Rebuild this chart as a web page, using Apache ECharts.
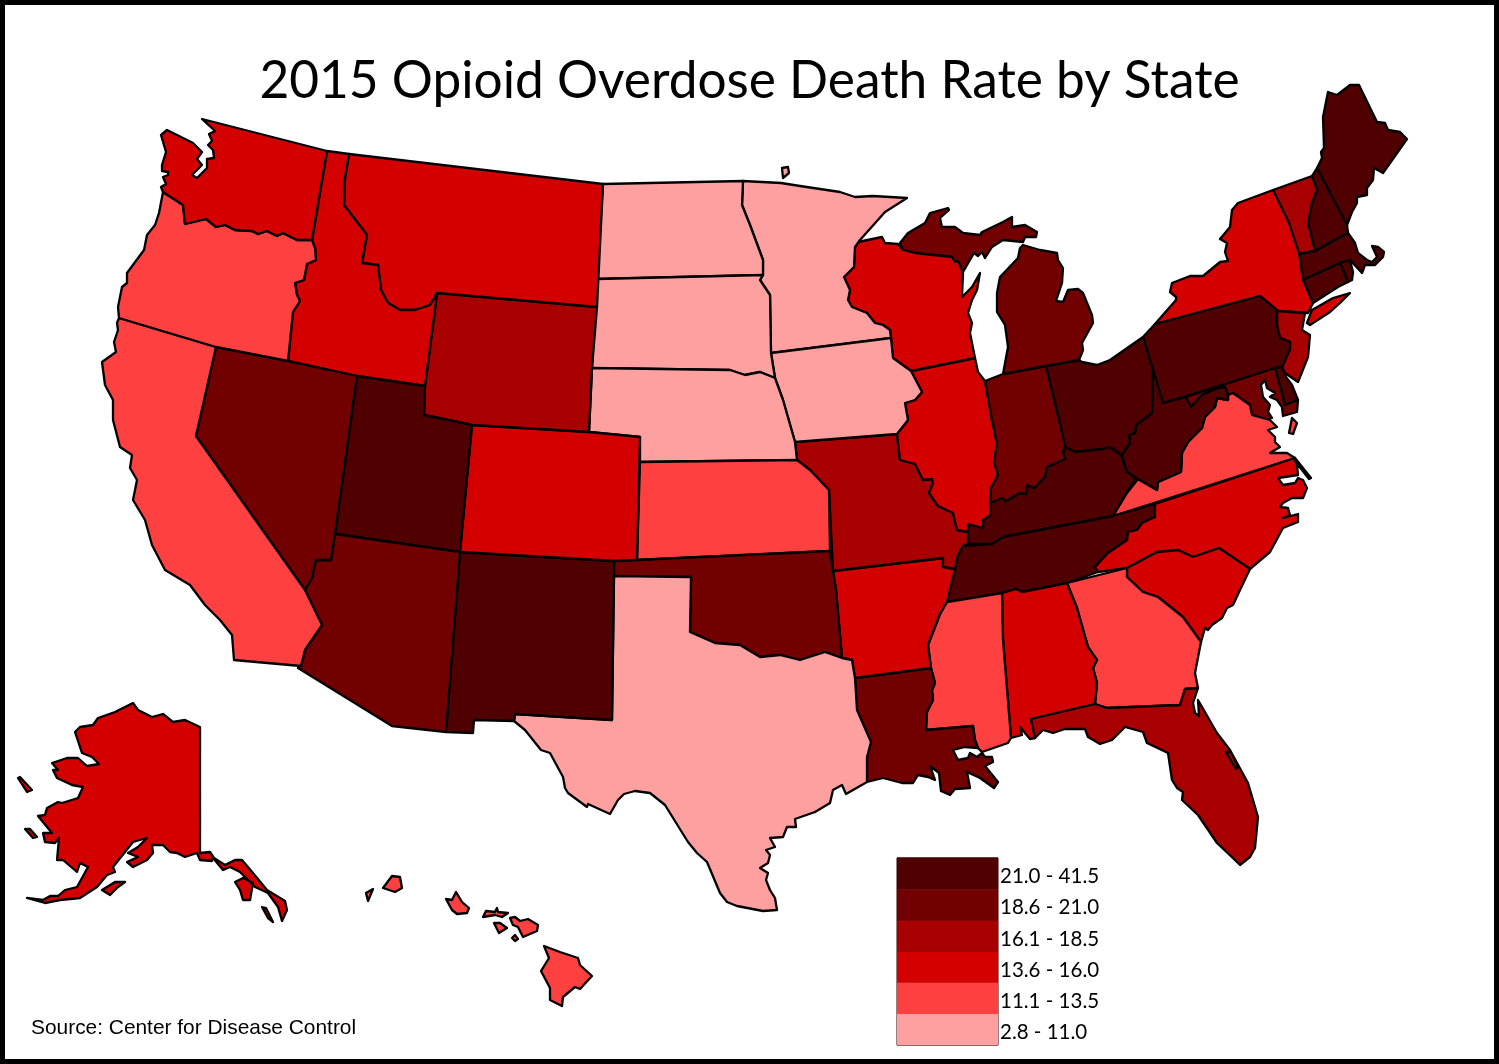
<!DOCTYPE html>
<html>
<head>
<meta charset="utf-8">
<title>2015 Opioid Overdose Death Rate by State</title>
<script src="https://cdn.jsdelivr.net/npm/echarts@6/dist/echarts.min.js"></script>
<style>
  html, body { margin: 0; padding: 0; background: #fff; }
  #main { width: 1499px; height: 1064px; }
</style>
</head>
<body>
<div id="main"></div>
<script>
// rates per 100k, estimated: the picture only shows which class each state falls in
var stateNames = ['ME','NH','VT','MA','RI','CT','NY','NJ','PA','DE','MD','VA','WV','OH','KY','TN','NC','SC','GA','AL','MS','FL','LA','AR','MO','IL','IN','MI','WI','MN','IA','ND','SD','NE','KS','OK','TX','NM','CO','WY','MT','ID','UT','AZ','NV','CA','OR','WA','AK','HI'];
var stateRates = [21.2,34.3,16.5,25.7,28.2,22.1,15.2,16.3,26.3,22.0,20.9,12.4,41.5,29.9,29.9,22.2,15.8,15.7,12.7,15.7,12.3,16.2,19.0,14.5,17.5,14.1,19.5,20.4,15.1,10.6,10.3,8.6,8.4,8.0,12.6,19.0,9.4,25.3,15.4,16.4,15.0,14.5,23.4,19.0,20.4,11.3,12.0,13.6,14.5,11.3];

var classLabels = ['21.0 - 41.5','18.6 - 21.0','16.1 - 18.5','13.6 - 16.0','11.1 - 13.5','2.8 - 11.0'];
var classMin = [21.0,18.6,16.1,13.6,11.1,2.8];
var classMax = [41.5,21.0,18.5,16.0,13.5,11.0];
var classColors = ['#500000','#730000','#a80000','#d40000','#ff4040','#ffa0a0'];

// outlines, one list of rings per state
var outlines = {
  WA: [[[202,119],[327,151],[312,240],[297,240],[283,233],[277,236],[267,231],[258,234],[252,231],[235,230],[225,225],[216,227],[206,219],[185,224],[183,205],[163,192],[161,187],[166,184],[163,177],[168,175],[168,172],[162,171],[162,165],[166,152],[161,135],[167,130],[193,143],[202,152],[197,159],[202,165],[192,175],[197,178],[207,168],[207,159],[214,158],[213,150],[208,145],[212,141],[209,134],[215,131]]],
  OR: [[[163,192],[183,205],[185,224],[206,219],[216,227],[225,225],[235,230],[252,231],[258,234],[267,231],[277,236],[283,233],[297,240],[312,240],[315,248],[316,260],[307,264],[304,280],[295,283],[297,295],[300,301],[293,312],[288,361],[216,347],[119,318],[118,307],[122,287],[127,283],[127,273],[144,250],[147,235],[155,225],[159,213]]],
  ID: [[[327,151],[349,154],[345,178],[344,205],[367,235],[362,263],[378,265],[381,290],[388,303],[400,310],[415,310],[430,305],[437,294],[425,386],[357,376],[288,361],[293,312],[300,301],[297,295],[295,283],[304,280],[307,264],[316,260],[315,248],[312,240]]],
  MT: [[[349,154],[603,184],[597,307],[437,293],[430,305],[415,310],[400,310],[388,303],[381,290],[378,265],[362,263],[367,235],[344,205],[345,178]]],
  WY: [[[437,293],[597,307],[592,368],[589,432],[472,425],[424,415],[425,386]]],
  CA: [[[119,318],[216,347],[196,436],[305,590],[322,625],[305,650],[301,666],[234,660],[232,635],[220,620],[205,605],[190,585],[165,570],[152,545],[145,520],[133,500],[137,480],[130,468],[132,455],[120,447],[113,420],[113,400],[105,385],[102,362],[116,352],[114,342],[118,330],[117,323]]],
  NV: [[[216,347],[288,361],[357,376],[335,534],[331,560],[316,560],[312,578],[305,590],[196,436]]],
  UT: [[[357,376],[425,386],[424,415],[472,425],[460,552],[335,534]]],
  AZ: [[[335,534],[460,552],[446,732],[392,726],[298,668],[301,666],[305,650],[322,625],[305,590],[312,578],[316,560],[331,560]]],
  CO: [[[472,425],[589,432],[640,437],[637,560],[614,561],[460,552]]],
  NM: [[[460,552],[614,561],[614,576],[612,720],[515,714],[514,721],[474,720],[473,733],[446,732]]],
  ND: [[[603,184],[743,181],[742,205],[750,225],[763,260],[763,275],[597,279]]],
  SD: [[[597,279],[763,275],[760,280],[770,295],[771,353],[775,378],[760,372],[745,375],[730,370],[592,368]]],
  NE: [[[592,368],[730,370],[745,375],[760,372],[775,378],[783,400],[795,442],[797,460],[640,462],[640,437],[589,432]]],
  KS: [[[640,462],[797,460],[810,470],[829,490],[830,551],[637,560]]],
  OK: [[[614,561],[637,560],[830,551],[833,571],[836,590],[842,658],[825,652],[800,660],[780,655],[760,657],[740,645],[715,643],[690,632],[691,577],[614,576]]],
  TX: [[[614,576],[691,577],[690,632],[715,643],[740,645],[760,657],[780,655],[800,660],[825,652],[842,658],[852,660],[855,678],[857,710],[871,742],[867,757],[867,782],[846,794],[842,785],[833,790],[830,803],[815,812],[795,819],[796,827],[787,827],[783,837],[770,838],[775,847],[766,850],[770,855],[768,863],[760,868],[768,873],[766,880],[770,890],[775,898],[777,910],[763,911],[737,906],[727,902],[720,893],[707,862],[697,853],[688,842],[665,805],[650,793],[635,791],[624,794],[618,800],[610,814],[588,804],[587,807],[568,793],[565,788],[563,777],[550,753],[541,750],[525,730],[514,721],[515,714],[612,720]]],
  MN: [[[743,181],[781,183],[800,186],[840,192],[855,197],[873,196],[907,198],[885,212],[860,240],[855,247],[854,267],[844,277],[850,290],[848,300],[852,307],[867,313],[875,323],[883,325],[890,330],[891,338],[771,353],[770,295],[760,280],[763,275],[763,260],[750,225],[742,205]],
       [[782,168],[788,167],[789,173],[783,178]]],
  IA: [[[771,353],[891,338],[893,358],[911,371],[922,392],[915,400],[905,403],[908,420],[897,434],[795,442],[783,400],[775,378]]],
  MO: [[[795,442],[897,434],[900,460],[915,464],[923,480],[932,479],[933,483],[929,493],[938,506],[953,513],[957,530],[968,532],[968,544],[963,546],[958,555],[955,569],[943,567],[943,558],[833,571],[829,490],[810,470],[797,460]]],
  AR: [[[833,571],[943,558],[943,567],[955,569],[947,602],[940,614],[928,645],[931,668],[855,678],[852,660],[842,658],[836,590]]],
  LA: [[[855,678],[931,668],[935,683],[932,690],[933,700],[927,712],[926,730],[973,726],[975,740],[978,748],[965,747],[953,750],[958,760],[968,758],[970,753],[977,757],[982,753],[985,757],[992,757],[993,762],[985,766],[998,782],[994,788],[980,778],[967,772],[970,788],[955,789],[950,795],[941,791],[939,773],[930,766],[935,780],[928,777],[918,775],[913,783],[902,783],[883,778],[867,782],[867,757],[871,742],[857,710]]],
  WI: [[[858,242],[882,237],[885,243],[898,244],[903,250],[915,253],[952,257],[955,262],[958,261],[962,270],[963,273],[962,297],[972,287],[980,273],[977,290],[972,300],[968,313],[972,323],[970,333],[975,358],[911,371],[893,358],[891,338],[890,330],[883,325],[875,323],[867,313],[852,307],[848,300],[850,290],[844,277],[854,267],[855,247]]],
  MI: [[[900,243],[908,233],[925,223],[930,213],[948,208],[949,210],[940,218],[942,227],[955,227],[963,233],[980,235],[982,232],[1003,222],[1012,217],[1012,227],[1025,225],[1037,232],[1036,237],[1025,237],[1023,242],[1003,240],[992,247],[985,258],[982,252],[978,256],[974,253],[963,272],[962,270],[958,261],[955,262],[952,257],[915,253],[903,250]],
       [[1020,248],[1023,245],[1040,250],[1057,253],[1058,260],[1063,268],[1062,283],[1056,301],[1063,302],[1068,290],[1078,289],[1083,293],[1092,315],[1093,323],[1082,343],[1083,350],[1079,360],[1046,366],[1003,374],[1008,347],[1005,325],[997,312],[997,293],[1000,277],[1018,258]]],
  IL: [[[911,371],[975,358],[978,372],[985,381],[992,420],[997,444],[994,462],[998,475],[991,488],[990,503],[991,515],[983,520],[983,528],[968,524],[968,532],[957,530],[953,513],[938,506],[929,493],[933,483],[932,479],[923,480],[915,464],[900,460],[897,434],[908,420],[905,403],[915,400],[922,392]]],
  IN: [[[985,381],[1003,374],[1046,366],[1059,420],[1065,447],[1063,452],[1065,459],[1047,467],[1045,477],[1034,488],[1027,485],[1026,494],[1020,493],[1006,501],[1002,498],[990,503],[991,488],[998,475],[994,462],[997,444],[992,420]]],
  OH: [[[1046,366],[1079,360],[1082,362],[1097,365],[1110,360],[1143,337],[1153,370],[1152,413],[1136,425],[1135,433],[1129,435],[1130,443],[1122,455],[1121,455],[1110,447],[1103,449],[1075,452],[1065,447],[1059,420]]],
  KY: [[[990,503],[1002,498],[1006,501],[1020,493],[1026,494],[1027,485],[1034,488],[1045,477],[1047,467],[1065,459],[1063,452],[1065,447],[1075,452],[1103,449],[1110,447],[1121,455],[1127,472],[1136,478],[1124,497],[1113,516],[1003,537],[992,544],[968,544],[968,524],[983,528],[983,520],[991,515]]],
  TN: [[[963,546],[992,544],[1003,537],[1113,516],[1155,504],[1155,517],[1142,523],[1137,530],[1128,532],[1127,540],[1108,553],[1095,567],[1098,572],[1067,583],[1022,592],[1016,589],[1002,593],[947,602],[955,569],[958,555]]],
  MS: [[[947,602],[1002,593],[1003,640],[1011,738],[1008,743],[982,752],[978,748],[975,740],[973,726],[926,730],[927,712],[933,700],[932,690],[935,683],[931,668],[928,645],[940,614]]],
  AL: [[[1002,593],[1016,589],[1022,592],[1067,583],[1077,608],[1088,647],[1097,660],[1093,668],[1097,683],[1095,704],[1031,719],[1035,738],[1030,739],[1020,727],[1022,735],[1011,738],[1003,640]]],
  GA: [[[1067,583],[1127,568],[1127,577],[1143,592],[1158,597],[1183,617],[1201,642],[1195,673],[1198,688],[1185,689],[1180,705],[1107,708],[1095,704],[1097,683],[1093,668],[1097,660],[1088,647],[1077,608]]],
  FL: [[[1031,719],[1095,704],[1107,708],[1180,705],[1185,689],[1198,688],[1193,703],[1195,713],[1199,716],[1198,700],[1217,733],[1230,750],[1248,783],[1258,817],[1255,848],[1250,857],[1240,865],[1236,861],[1217,843],[1198,815],[1182,800],[1183,792],[1177,788],[1172,780],[1168,753],[1147,743],[1143,732],[1125,727],[1112,740],[1100,744],[1088,737],[1085,729],[1065,729],[1053,733],[1043,730],[1035,738]],
       [[1226,752],[1231,752],[1238,767],[1236,769]]],
  SC: [[[1127,568],[1157,552],[1178,550],[1193,557],[1219,548],[1250,569],[1240,590],[1233,605],[1227,608],[1222,618],[1212,625],[1208,630],[1205,628],[1201,642],[1183,617],[1158,597],[1143,592],[1127,577]]],
  NC: [[[1155,504],[1295,458],[1297,465],[1298,475],[1278,478],[1283,485],[1295,483],[1298,478],[1303,480],[1307,488],[1303,498],[1292,498],[1283,503],[1280,507],[1288,508],[1290,515],[1283,518],[1298,514],[1298,522],[1283,528],[1270,552],[1250,569],[1219,548],[1193,557],[1178,550],[1157,552],[1127,568],[1098,572],[1095,567],[1108,553],[1127,540],[1128,532],[1137,530],[1142,523],[1155,517]],
       [[1295,458],[1311,478],[1309,479],[1295,461]]],
  VA: [[[1113,516],[1295,458],[1287,453],[1270,453],[1280,447],[1275,442],[1275,437],[1268,430],[1277,427],[1270,420],[1252,415],[1250,405],[1233,393],[1228,395],[1228,400],[1217,398],[1215,407],[1205,417],[1202,428],[1188,442],[1182,453],[1181,472],[1158,482],[1157,490],[1138,479],[1127,493]],
       [[1292,418],[1297,423],[1293,434],[1289,433]]],
  WV: [[[1153,370],[1163,403],[1186,397],[1191,407],[1202,395],[1218,388],[1225,387],[1228,395],[1228,400],[1217,398],[1215,407],[1205,417],[1202,428],[1188,442],[1182,453],[1181,472],[1158,482],[1157,490],[1138,479],[1136,478],[1127,472],[1122,455],[1130,443],[1129,435],[1135,433],[1136,425],[1152,413]]],
  MD: [[[1186,397],[1275,368],[1285,405],[1298,400],[1297,412],[1283,416],[1282,407],[1277,400],[1270,397],[1275,393],[1267,388],[1265,380],[1261,385],[1263,397],[1270,405],[1268,412],[1272,418],[1263,420],[1252,415],[1250,405],[1233,393],[1228,395],[1225,387],[1218,388],[1202,395],[1191,407]]],
  DE: [[[1275,368],[1282,367],[1286,377],[1292,385],[1298,400],[1285,405]]],
  PA: [[[1143,337],[1155,324],[1260,296],[1277,310],[1277,325],[1280,338],[1290,342],[1290,349],[1282,367],[1163,403]]],
  NJ: [[[1277,311],[1305,313],[1302,330],[1310,335],[1308,357],[1298,382],[1285,373],[1282,367],[1290,349],[1290,342],[1280,338],[1277,325]]],
  NY: [[[1155,324],[1176,300],[1176,297],[1170,292],[1172,283],[1190,276],[1203,276],[1220,262],[1228,261],[1225,252],[1227,243],[1220,239],[1230,227],[1232,210],[1238,203],[1273,190],[1289,223],[1299,253],[1303,280],[1313,303],[1308,313],[1277,311],[1260,296]],
       [[1307,323],[1310,325],[1330,312],[1340,303],[1350,293],[1333,298],[1312,310]]],
  CT: [[[1303,280],[1340,263],[1348,282],[1338,287],[1313,303]]],
  RI: [[[1340,263],[1350,260],[1353,272],[1352,280],[1348,282]]],
  MA: [[[1299,254],[1315,251],[1348,233],[1355,243],[1358,253],[1367,260],[1372,262],[1377,257],[1372,246],[1378,247],[1384,252],[1383,257],[1375,265],[1365,265],[1362,273],[1350,260],[1340,263],[1303,280]]],
  VT: [[[1273,190],[1312,176],[1317,190],[1312,203],[1310,213],[1308,223],[1315,251],[1299,254],[1289,223]]],
  NH: [[[1312,176],[1317,168],[1347,225],[1348,233],[1315,251],[1308,223],[1310,213],[1312,203],[1317,190]]],
  ME: [[[1317,168],[1322,158],[1321,152],[1324,148],[1323,117],[1328,92],[1337,95],[1350,85],[1359,85],[1377,122],[1385,123],[1388,130],[1400,132],[1407,139],[1383,173],[1374,168],[1373,180],[1367,188],[1367,195],[1357,197],[1357,203],[1352,212],[1347,225]]],
  AK: [[[200,727],[200,853],[210,852],[214,858],[225,865],[235,860],[242,860],[253,873],[267,890],[285,901],[287,910],[282,921],[278,907],[268,893],[255,887],[240,872],[230,867],[223,870],[213,858],[212,861],[200,860],[197,853],[185,857],[177,853],[170,852],[163,845],[152,845],[153,853],[147,860],[133,867],[127,862],[138,857],[128,853],[138,847],[147,838],[133,842],[125,852],[113,867],[115,872],[107,875],[97,887],[80,898],[60,900],[45,903],[27,898],[43,900],[50,896],[58,896],[65,890],[77,887],[88,867],[80,863],[77,872],[63,860],[57,860],[59,838],[55,843],[45,842],[43,833],[52,833],[38,816],[45,815],[47,808],[58,802],[62,803],[78,798],[83,787],[72,785],[57,778],[53,770],[58,770],[52,763],[67,758],[78,758],[87,766],[99,764],[92,757],[82,753],[75,732],[80,727],[93,725],[98,718],[115,712],[133,703],[138,710],[152,717],[163,714],[173,722],[185,720]],
       [[18,778],[20,777],[32,790],[27,792]],
       [[25,829],[30,829],[37,837],[33,838]],
       [[102,890],[115,882],[125,882],[118,887],[110,895]],
       [[235,882],[243,878],[253,883],[250,900],[243,900],[240,890]],
       [[262,907],[266,908],[273,922],[268,918]]],
  HI: [[[366,893],[373,889],[368,901]],
       [[383,888],[392,876],[400,877],[402,888],[395,892]],
       [[446,899],[452,900],[456,892],[462,902],[469,908],[467,913],[457,914],[452,910]],
       [[483,917],[486,911],[495,912],[497,908],[498,912],[508,913],[502,917],[495,915]],
       [[494,923],[500,923],[507,928],[499,933]],
       [[512,938],[515,935],[518,939],[515,941]],
       [[510,918],[515,917],[520,921],[528,919],[538,925],[537,931],[523,937],[518,927],[513,925]],
       [[544,946],[560,952],[578,958],[580,965],[592,976],[580,989],[575,987],[563,997],[562,1006],[550,1000],[550,988],[541,971],[549,958]]]
};

// holes are rings that sit inside the first ring of the same state
var holeRings = { FL: [1] };

function flip(ring) {
  var out = ring.map(function (p) { return [p[0], -p[1]]; });
  out.push(out[0]);
  return out;
}

var xMin = Infinity, xMax = -Infinity, yMin = Infinity, yMax = -Infinity;
var features = stateNames.map(function (name) {
  var rings = outlines[name];
  var holes = holeRings[name] || [];
  var polys = [];
  rings.forEach(function (ring, i) {
    ring.forEach(function (p) {
      xMin = Math.min(xMin, p[0]); xMax = Math.max(xMax, p[0]);
      yMin = Math.min(yMin, p[1]); yMax = Math.max(yMax, p[1]);
    });
    if (holes.indexOf(i) >= 0) polys[0].push(flip(ring));
    else polys.push([flip(ring)]);
  });
  return {
    type: 'Feature',
    properties: { name: name },
    geometry: { type: 'MultiPolygon', coordinates: polys }
  };
});

echarts.registerMap('usStates', { type: 'FeatureCollection', features: features });

var chart = echarts.init(document.getElementById('main'));

var legendX = 897, legendY = 858, legendW = 101, legendRowH = 31.2;

var legendLines = classLabels.map(function (l, i) {
  return {
    type: 'line',
    silent: true,
    shape: { x1: legendX, y1: legendY + i * legendRowH, x2: legendX + legendW, y2: legendY + i * legendRowH },
    style: { stroke: '#200000', lineWidth: 1 }
  };
});

var option = {
  backgroundColor: '#fff',
  animation: false,
  title: [
    {
      text: '2015 Opioid Overdose Death Rate by State',
      left: 'center',
      top: 51,
      textStyle: { fontFamily: 'Lato', fontWeight: 'normal', fontSize: 51.4, color: '#000' }
    },
    {
      text: 'Source: Center for Disease Control',
      left: 31,
      top: 1018,
      padding: 0,
      textStyle: { fontFamily: 'Liberation Sans', fontWeight: 'normal', fontSize: 20.9, color: '#000' }
    }
  ],
  visualMap: {
    type: 'piecewise',
    seriesIndex: 0,
    left: legendX,
    top: legendY,
    padding: 0,
    align: 'left',
    itemWidth: legendW,
    itemHeight: legendRowH,
    itemGap: 0,
    textGap: 2,
    itemSymbol: 'rect',
    selectedMode: false,
    hoverLink: false,
    showLabel: true,
    textStyle: {
      fontFamily: 'Lato',
      fontSize: 20.5,
      color: '#000',
      rich: { row: { fontFamily: 'Lato', fontSize: 20.5, color: '#000', padding: [6, 0, 0, 0] } }
    },
    pieces: classLabels.map(function (label, i) {
      return { min: classMin[i], max: classMax[i], label: '{row|' + label + '}', color: classColors[i] };
    })
  },
  series: [{
    type: 'map',
    map: 'usStates',
    silent: true,
    roam: false,
    aspectScale: 1,
    left: xMin,
    top: yMin,
    width: xMax - xMin,
    height: yMax - yMin,
    label: { show: false },
    emphasis: { disabled: true },
    select: { disabled: true },
    itemStyle: { borderColor: '#000', borderWidth: 2.3, borderJoin: 'round', areaColor: '#fff' },
    data: stateNames.map(function (n, i) { return { name: n, value: stateRates[i] }; })
  }],
  graphic: legendLines.concat([
    {
      type: 'rect',
      silent: true,
      shape: { x: legendX, y: legendY, width: legendW, height: legendRowH * classLabels.length },
      style: { fill: 'none', stroke: '#300000', lineWidth: 1 }
    },
    {
      type: 'rect',
      silent: true,
      shape: { x: 2.5, y: 2.5, width: 1494, height: 1059 },
      style: { fill: 'none', stroke: '#000', lineWidth: 5 }
    }
  ])
};

chart.setOption(option);
</script>
</body>
</html>
